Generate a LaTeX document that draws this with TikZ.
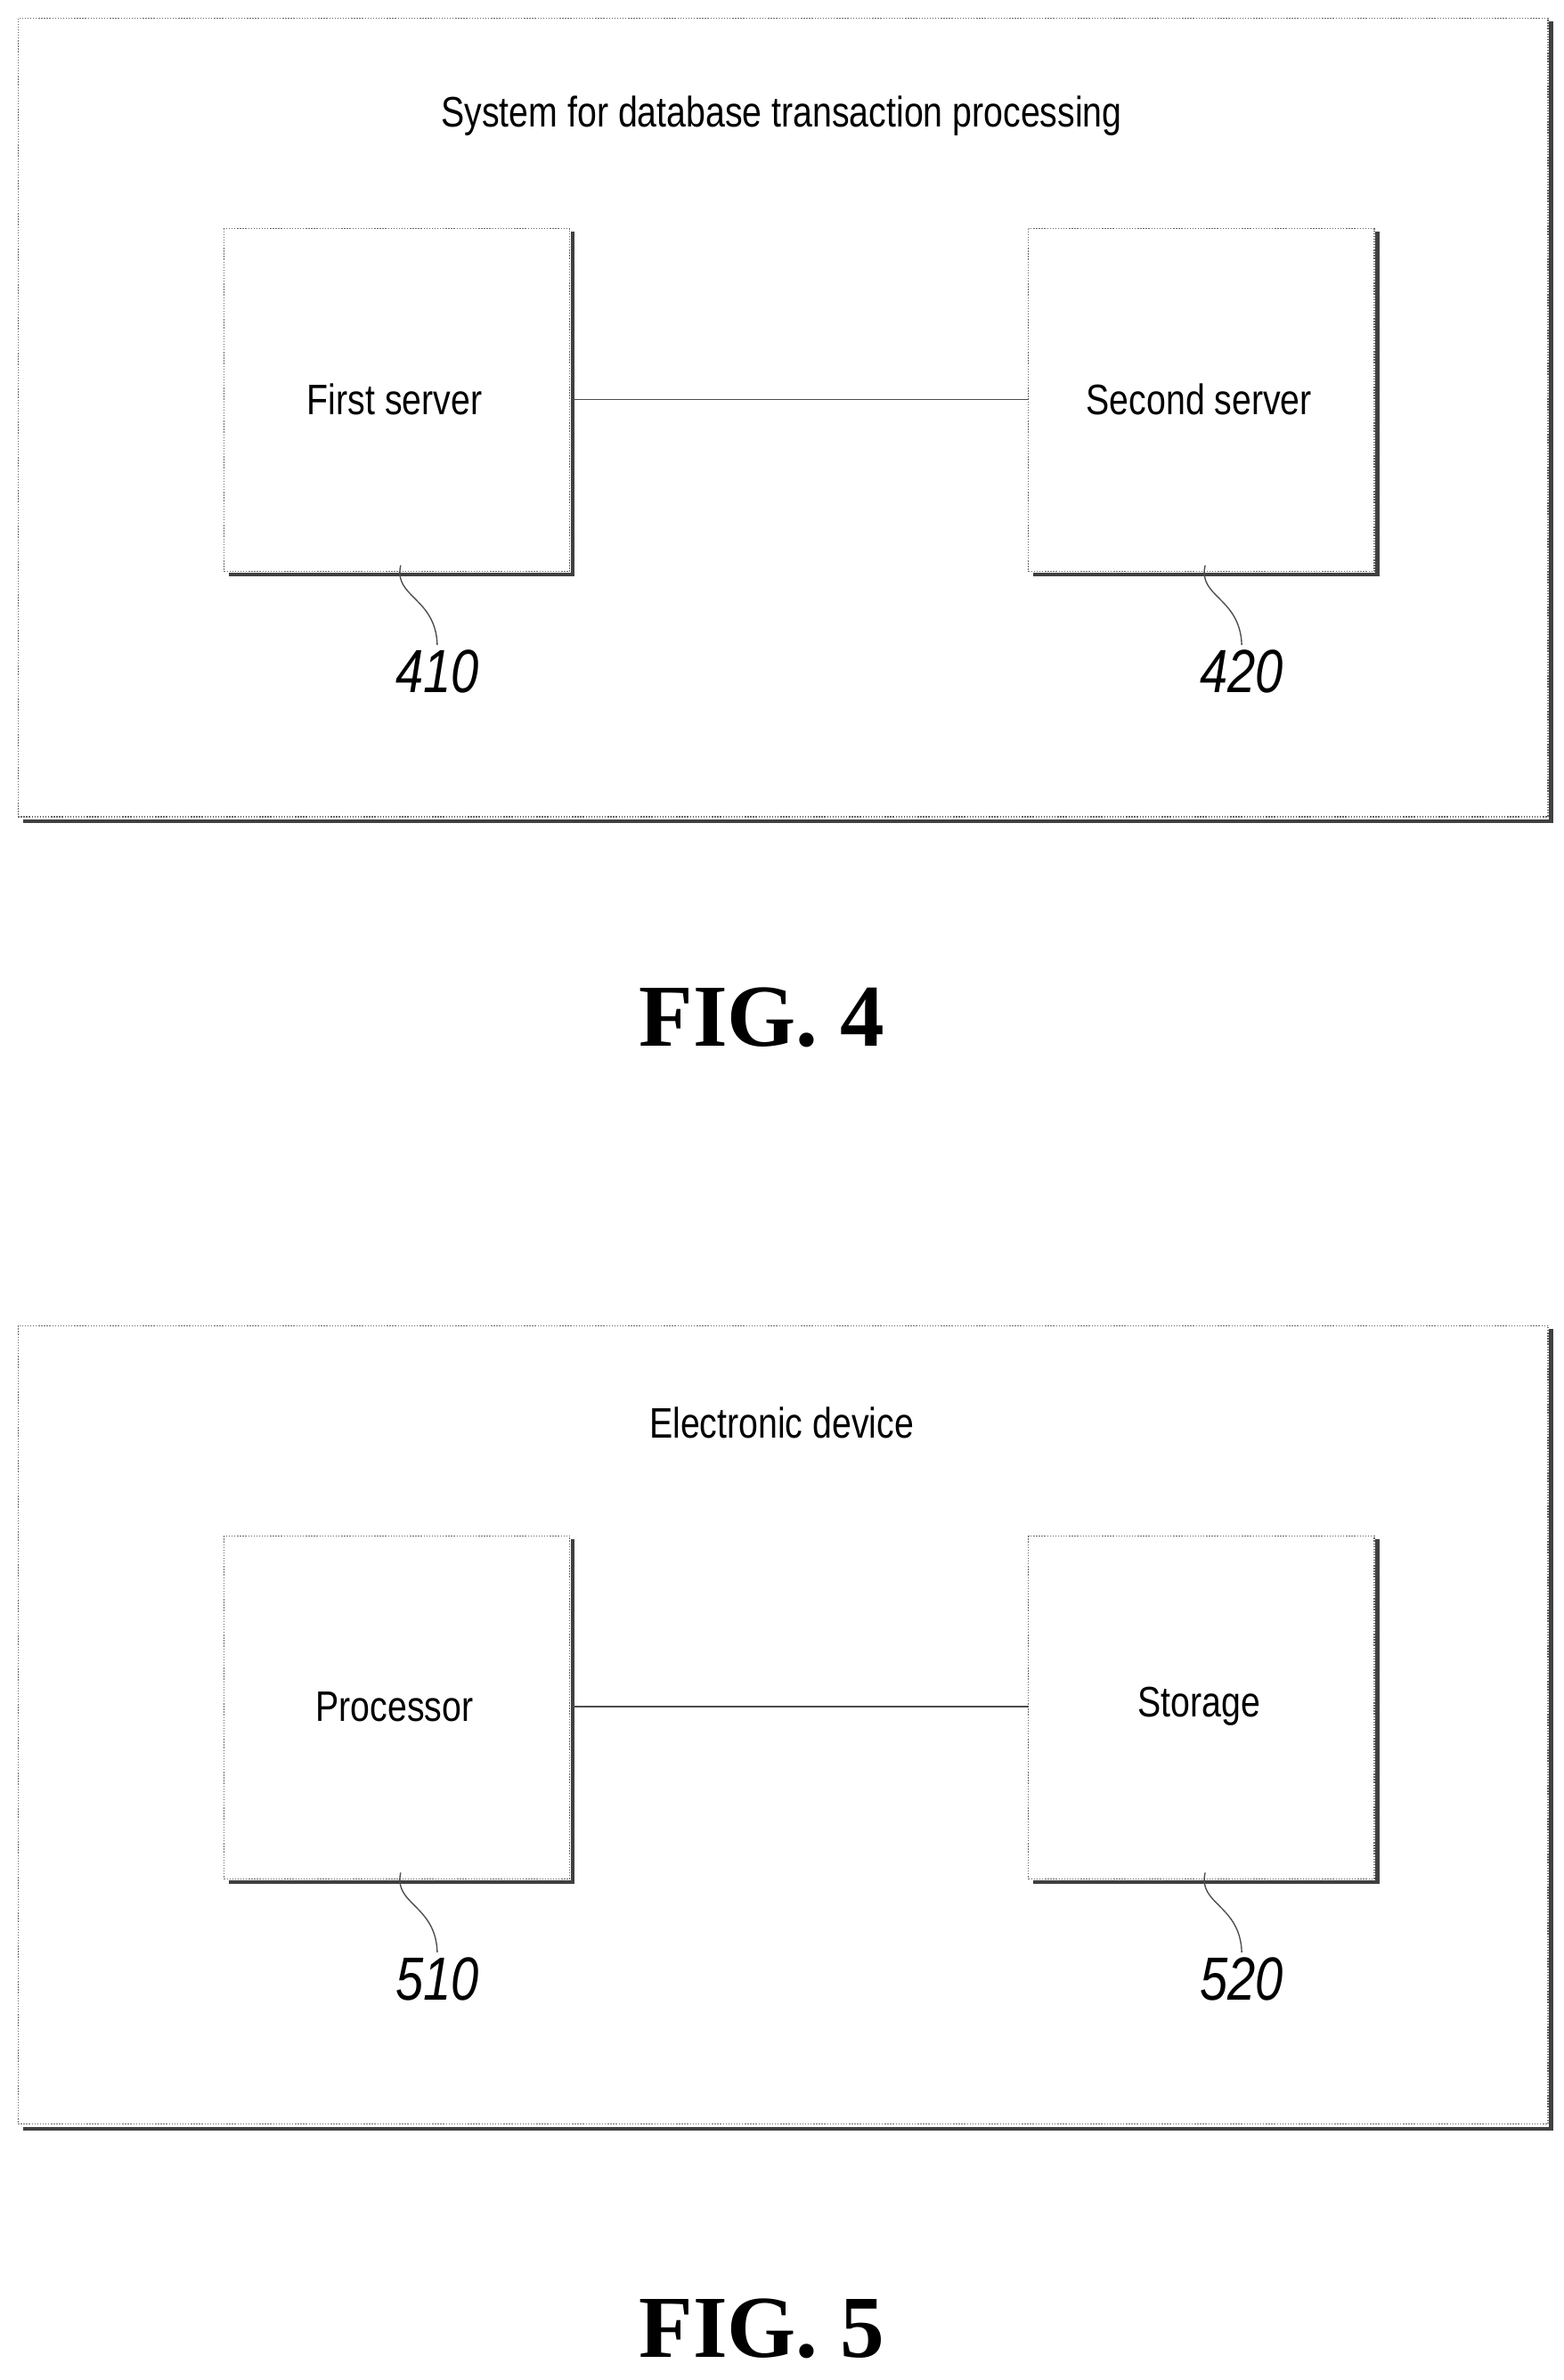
\documentclass[tikz,border=0pt]{standalone}
\usepackage{fontspec}
\setmainfont{Liberation Sans}[FakeStretch=0.82]
\newfontfamily\figfont{Liberation Serif}
\begin{document}
\begin{tikzpicture}[x=1pt,y=-1pt,
  box/.style={draw=black!60,line width=0.8pt,densely dotted},
  shadow/.style={draw=black!75,line width=2.5pt},
  lbl/.style={font=\fontsize{28}{32}\selectfont},
  num/.style={font=\fontsize{40}{46}\itshape\selectfont},
  fig/.style={font=\figfont\bfseries\fontsize{58}{66}\selectfont},
  conn/.style={draw=black!70,line width=0.8pt}]
\useasboundingbox (0,0) rectangle (1026,1562);
\foreach \oy/\t/\a/\b/\na/\nb/\f in {0/System for database transaction processing/First server/Second server/410/420/4, 858/Electronic device/Processor/Storage/510/520/5}{
  \begin{scope}[yshift=-\oy]
  \draw[shadow] (15,539) -- (1018,539) -- (1018,14);
  \draw[box] (12,12) rectangle (1016,536);
  \node[lbl] (t\f) at (513,76) {\t};
  \draw[shadow] (150,377) -- (376,377) -- (376,152);
  \draw[box] (147,150) rectangle (374,375);
  \node[lbl] (a\f) at (259,262) {\a};
  \draw[shadow] (678,377) -- (904,377) -- (904,152);
  \draw[box] (675,150) rectangle (902,375);
  \node[lbl] (b\f) at (787,262) {\b};
  \coordinate (ar\f) at (376,262); \coordinate (bl\f) at (675,262);
  \draw[conn] (ar\f) -- (bl\f);
  \node[num] (na\f) at (287,441) {\na};
  \node[num] (nb\f) at (815,441) {\nb};
  \coordinate (ta\f) at (263,371); \coordinate (tb\f) at (791,371);
  \draw[conn] (ta\f) .. controls (258,392) and (286,392) .. (na\f.north);
  \draw[conn] (tb\f) .. controls (786,392) and (814,392) .. (nb\f.north);
  \end{scope}}
\node[fig] (f4) at (500,668) {FIG. 4};
\node[fig] (f5) at (500,1528) {FIG. 5};
\end{tikzpicture}
\end{document}
